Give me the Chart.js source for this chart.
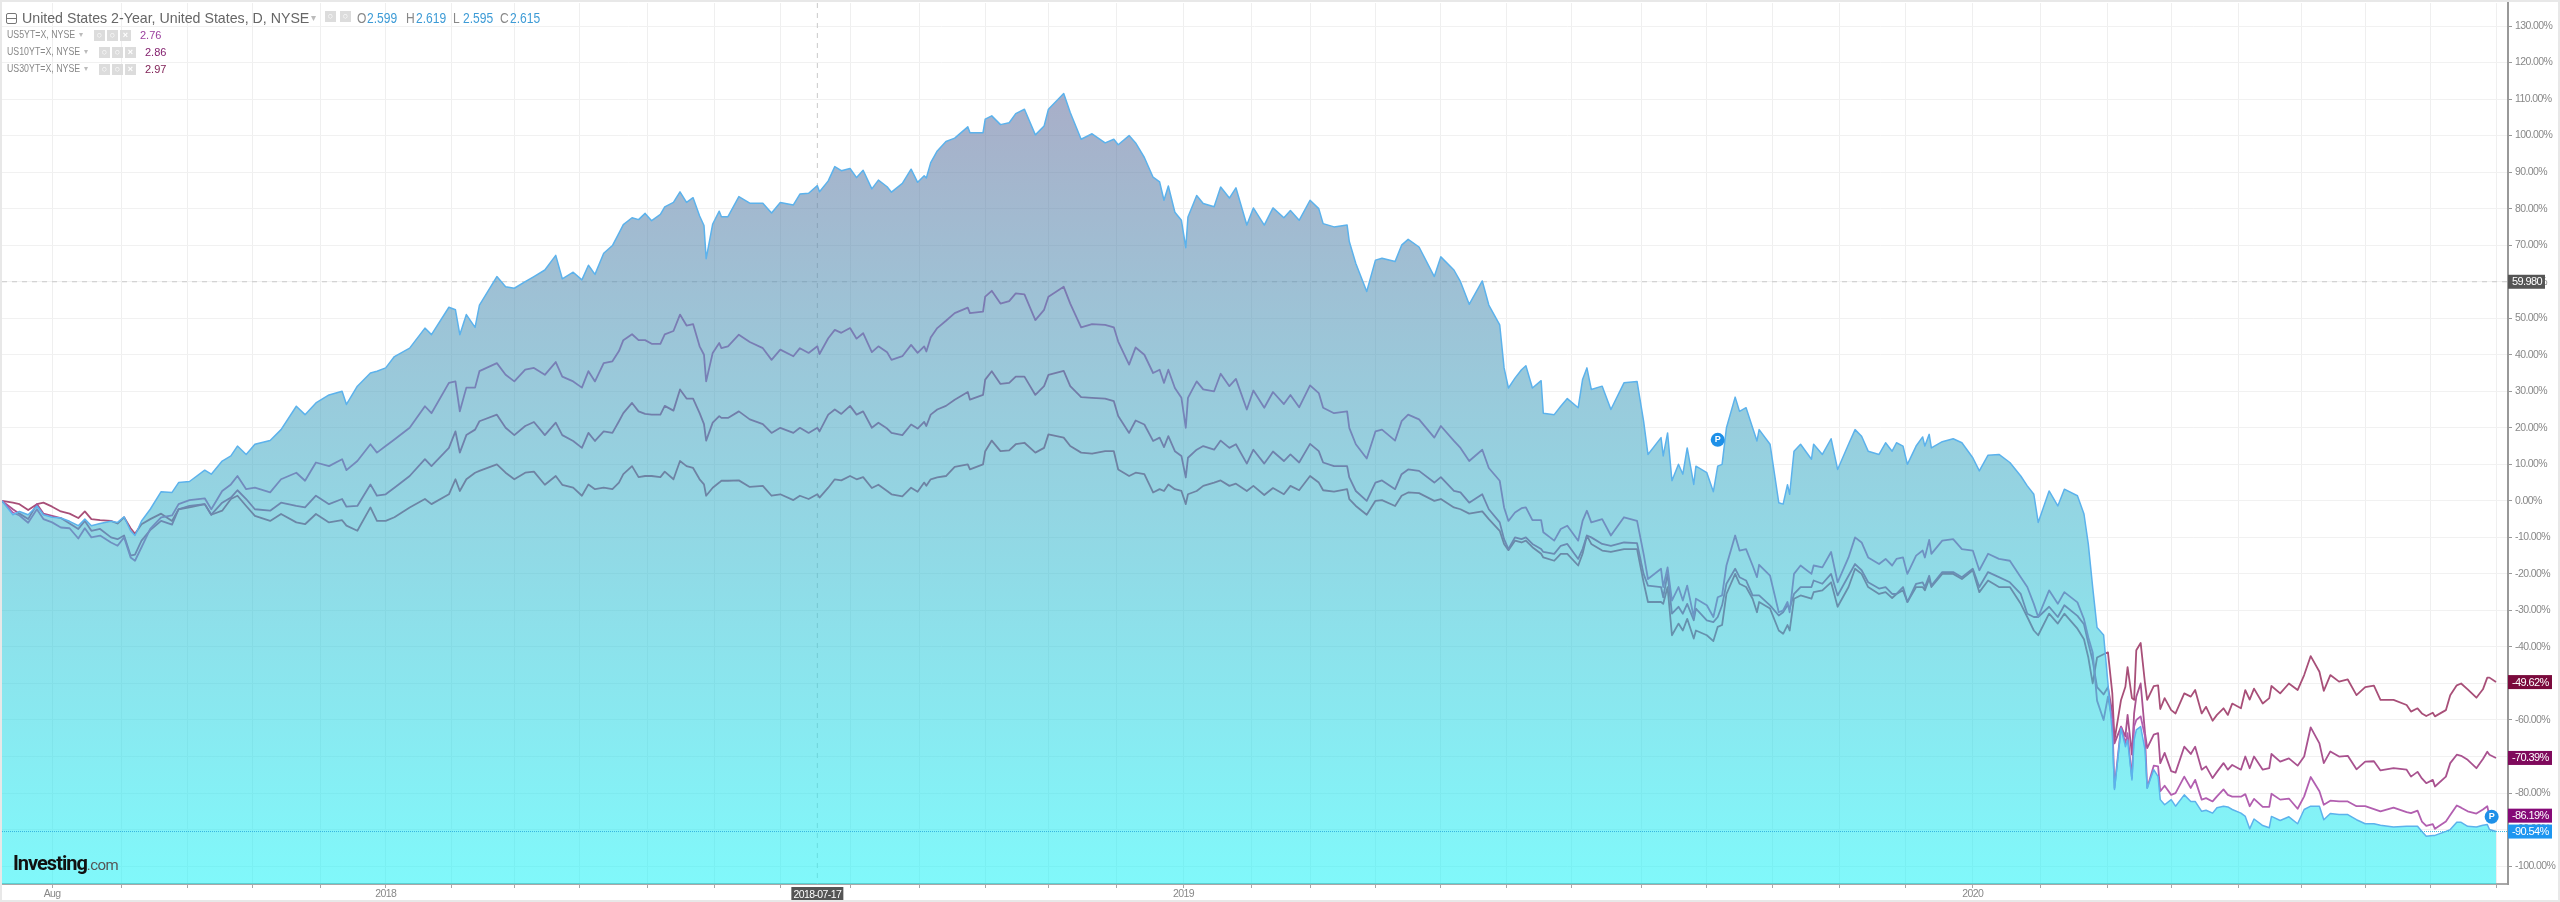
<!DOCTYPE html>
<html>
<head>
<meta charset="utf-8">
<title>United States 2-Year</title>
<script src="https://cdn.jsdelivr.net/npm/chart.js@4"></script>
<style>
  html, body { margin: 0; padding: 0; background: #fff; width: 2560px; height: 902px; overflow: hidden; }
  #wrap { position: relative; width: 2560px; height: 902px; filter: blur(0.5px); }
  canvas { position: absolute; left: 0; top: 0; }
  #frame { position: absolute; left: 0; top: 0; width: 2560px; height: 902px; box-sizing: border-box; border: 2px solid #e8e8e8; pointer-events: none; }
  .row { position: absolute; white-space: nowrap; font-family: "Liberation Sans", sans-serif; color: #777; }
  .row span { position: absolute; top: 0; transform-origin: left center; }
  .ico { position: absolute; background: #dcdcdc; color: #fff; font: bold 9px/11px "Liberation Sans", sans-serif; text-align: center; }
  #logo { position: absolute; left: 13px; top: 851px; font-family: Roboto, sans-serif; color: #111; white-space: nowrap; }
  #logo b { font-size: 20px; letter-spacing: -1px; font-weight: 700; }
  #logo i { font-style: normal; font-size: 15px; color: #555; letter-spacing: -0.6px; }
</style>
</head>
<body>
<div id="wrap">
  <canvas id="chart" width="2560" height="902"></canvas>
  <div id="header"></div>
  <div id="logo"><b>Investing</b><i>.com</i></div>
  <div id="frame"></div>
</div>
<script>
// calendar days since the left edge of the chart (2017-07-08)
const days = [0,5,8,12,16,19,23,27,31,35,38,41,45,50,53,56,59,61,64,68,73,78,81,86,93,96,101,105,108,112,
  116,123,128,135,139,144,150,156,158,163,169,172,176,180,187,194,197,205,208,210,213,217,219,227,231,235,240,244,249,254,
  257,262,266,269,272,276,280,283,285,289,292,295,298,302,304,308,311,314,317,320,322,323,326,329,330,333,338,343,349,353,
  357,363,366,370,374,375,379,382,385,389,392,395,399,402,406,408,413,417,420,423,424,426,429,433,437,443,444,450,451,454,
  458,462,465,469,474,478,480,487,490,495,500,506,510,512,517,520,524,528,531,533,535,538,541,543,544,548,551,556,559,563,
  566,571,574,579,583,588,591,595,600,604,606,611,617,618,621,626,630,633,639,642,645,650,657,660,666,669,673,679,682,687,
  689,691,694,697,699,702,706,707,712,715,718,723,725,727,729,734,738,744,750,753,755,761,762,764,766,769,771,773,776,777,
  782,785,787,789,791,795,797,800,803,805,806,811,815,817,819,820,822,825,830,831,835,839,842,847,850,853,856,861,864,867,
  869,872,874,878,881,882,884,885,890,895,899,904,907,911,916,921,926,929,932,934,939,943,946,952,955,957,959,961,964,966,
  968,969,972,974,975,977,978,979,981,983,984,987,989,990,992,995,997,1001,1004,1006,1009,1011,1014,1016,1019,1021,1023,1027,1029,1031,
  1033,1037,1040,1041,1045,1049,1053,1056,1059,1063,1065,1068,1072,1076,1080,1084,1088,1091,1097,1103,1105,1108,1110,1112,1115,1116,1121,1123,1126,1128,
  1131,1135,1138,1140,1141,1144];

const us2y = [0,-3.8,-2.9,-3.8,-1.4,-3.8,-4.5,-4.7,-5.6,-6.8,-5,-6.8,-6.2,-5.6,-5.9,-4.4,-8.2,-9.5,-5.5,-2.3,2.5,2.3,5,5.3,8.4,7.3,10.9,12.3,15,12.7,
  15.5,16.5,19.5,25.9,23.6,26.8,29,30,26.4,31.4,35,35.5,36.4,39.5,41.8,47.3,45.5,53,52.3,45.5,51,47.5,53.6,61.4,58.6,58.2,60,61.4,63.2,67.2,
  60.8,62.6,60.5,64.5,62,67.8,69.9,73.3,75.6,77.5,77,78.7,76.7,78.4,80.5,81.7,84.6,81.7,83,78,75.4,66.3,75.8,79.3,77.8,77.8,83.3,81.5,81.5,78.8,
  81.7,81,84,84.2,86.3,84.6,87.6,91.5,90.4,91,88.5,90.5,85.4,87.8,86,84.5,86.9,90.8,87.2,89,88.4,92.6,95.8,98.4,99.3,102.4,100.8,100.8,104.5,105.4,
  103,103.5,106,107.2,100.2,102.6,107.2,111.5,106.3,99,100.5,98,99,97.5,100,98,94,88.6,87.3,82.3,86.2,79,76.8,69.3,77.7,83.6,81.4,80.5,85.9,82.9,
  85.7,75.5,80.2,75.5,80.2,77.5,79.5,76.8,82.3,80,75.9,75,75.5,71,65,57.3,65.9,66.4,65.5,70,71.6,69.5,61.4,66.8,63.2,60,53.8,60.2,53.6,48.2,
  36.4,30.9,33.6,35.9,37,30.9,32.9,24,23.6,25.9,28,25.5,33.2,36.4,30.5,31.4,25,32.3,32.7,21.8,12.7,17.3,12.3,18.6,5.5,10,7.3,14.5,4.5,9.5,
  7.7,2.5,9.5,10,20,28.4,24.5,25.5,20,16.4,19.5,15.5,-.5,-.9,4.4,1.8,13.6,15.5,11.4,15.5,12.7,17,8.6,15.5,19.5,17.7,13.6,12.7,15.9,13.6,
  15.9,15,10,15,17.5,15,18.2,14.5,16.2,17,15.9,11.8,8.2,12.5,12.7,10.5,6.8,4.1,1.8,-5.9,2.7,-1.4,3.2,1.4,-3.6,-11.9,-23.7,-34.7,-36.7,-50,
  -63.6,-79,-62.3,-67.3,-65.5,-76.4,-65.5,-62.7,-61.8,-68.2,-78.6,-73.6,-75.5,-81.8,-83.2,-81.8,-83.6,-80.5,-82.3,-82.3,-85,-84.7,-85.5,-84,-83.6,-83.8,-84.5,-85.5,-86.4,-89.8,
  -87.1,-88.9,-89.5,-86.4,-87.5,-86.5,-88.4,-84.5,-83.6,-83.6,-87.3,-85.6,-85.9,-85.9,-87.3,-88.4,-88.4,-88.8,-89.3,-89.1,-89.1,-89.1,-90.5,-91.8,-91.6,-91.6,-90.5,-90,-88,-88,
  -89.1,-89.3,-88.8,-88.6,-90,-90.54];

const us5y = [0,-3.2,-4,-6,-2.3,-5,-5.9,-7.3,-7.5,-10.3,-7.5,-10,-9.5,-11.4,-12.3,-10,-15.5,-16.4,-12.7,-7.7,-4.5,-4,-.9,.2,.7,-2.3,2.7,4.5,6.8,3.2,
  3.6,2.3,5.9,7.7,5.5,10.5,9.5,11.4,8.4,10.9,15.5,13.2,15,16.8,20,25.9,24,32.3,32.7,24.5,31,31,35.5,37.7,34.5,32.7,35.9,36.4,34.5,38,
  34,32.7,31,35.5,32.7,37.7,38.2,41,44,45.6,44,44,43,43,45.6,46.5,51,48,48.4,42.3,40,32.7,40.5,43.2,41.8,42.3,45.5,43.5,41.8,38.6,
  41.4,39.6,41.8,40.5,42.3,40.2,44.5,46.8,46,47.3,44.4,45.9,40.7,42.3,40.7,38.6,39.6,42.7,40.5,42.3,40.9,44.7,47.3,49.3,51.4,52.9,51.4,51.8,55.9,57.5,
  54,54.7,56.8,56.5,49.5,52.3,55.9,58.6,54,47.5,48.4,48.2,47.5,43.6,37.3,42,40,35,35.9,32.3,35.9,30.9,28.2,20,28.2,32.7,30.5,30,34.8,31.4,
  33.4,25,30.2,25.5,29.8,26.5,29,25.6,31.6,29.5,25.5,24,24.5,20,15.5,11.6,19,19.5,16.5,21.8,23.6,22.3,17.3,20.5,16.4,14.5,10.9,14,9,5.5,
  -1.8,-5.5,-3.2,-2,-1.8,-5.3,-5.3,-8.6,-10.9,-7.7,-6.8,-10.9,-5.5,-2.7,-5.9,-5,-9.5,-4.5,-5.5,-14.5,-21.4,-18.6,-23.6,-18.2,-27.3,-23.6,-27.3,-23.2,-31.8,-26.8,
  -28.6,-31.8,-26.4,-25.9,-17.7,-9.5,-13.6,-13.2,-17.7,-20.9,-17.5,-20.5,-30.5,-30,-27.7,-30.5,-20,-17.7,-20,-17.7,-18.2,-14,-22.3,-15.5,-10,-11.4,-15.5,-17.3,-15.9,-17.7,
  -15.9,-15.5,-20,-15,-13.6,-15.5,-10.7,-14.5,-10.9,-10.5,-13.2,-13.6,-19,-14.5,-15.9,-16.4,-20.9,-23.6,-28.2,-31.8,-24.5,-28.2,-25,-27.8,-32.4,-37.4,-41.5,-54.7,-60,-53.6,
  -60,-78.6,-61.8,-66.4,-63.6,-75.9,-61.8,-60,-59,-64.5,-78.6,-72.5,-72.7,-79.5,-78,-80.5,-80,-75.5,-78.6,-76.4,-81.8,-81.4,-82.3,-80.9,-79,-80.5,-81,-81,-80.3,-83.6,
  -81.6,-83.8,-83.8,-80.2,-81.8,-81.5,-84.3,-80.9,-75.6,-79.5,-83.2,-82.1,-82.3,-82.3,-83.6,-83.6,-84.4,-85,-84,-85.2,-85.5,-84.8,-87.8,-89,-88.5,-89.8,-87.8,-86,-83.4,-84,
  -85,-85.6,-84.5,-83.6,-86.4,-86.19];

const us10y = [0,-2.3,-3.5,-5,-.9,-3.5,-4.1,-4.7,-6.2,-7.7,-5.5,-8.2,-7.7,-10,-10.5,-9.5,-15,-14.7,-10.9,-8,-5.5,-6.5,-2.3,-1.4,-.9,-3.8,-.5,.9,2.9,.5,
  -2.3,-2.7,-.5,-1.4,-1.8,1.4,-.9,.5,-1.6,-1.4,4.5,1.4,1.8,3.6,6.8,11.4,9.5,14.5,19,13.2,18,19.5,21.8,23.6,20,18,20.5,21.6,18,21.4,
  18,16.4,14.5,18.6,16.4,19,18.6,21.8,24,26.8,24.5,23.8,23.6,23.6,26,24.7,30.5,28,28,24,21,16.5,21.4,23.2,22.7,22.7,24.5,22.3,21,18.6,
  20,18.6,20,18.6,20,19,23.6,25,23.8,26,23.6,24.5,20,21.4,19.8,18.6,18,20.9,19.8,21.6,20.5,23.6,25,26,27.7,29.8,27.7,29,33.2,35.5,
  32,32.3,34,34,29,31.4,34.5,35.6,31.4,28.4,28.2,28,27.3,23.2,18.6,22,20.9,16.4,17.3,14.7,17.7,13.6,12.3,6.4,11.8,14,15,14,16.5,14.5,
  15.5,10.2,14,10.2,13.5,10.9,12.7,10.5,15.6,13.6,10.5,9.5,9.5,6.4,2.7,0,5,5.6,3.2,7.3,8.6,8.2,5,6.5,2.7,2.3,-.5,1.8,-2.3,-5.9,
  -10.5,-13.2,-10,-10.5,-10,-11.8,-13.2,-14,-14.5,-12.3,-11.8,-15.9,-13.2,-9.5,-10,-11.8,-12.3,-11.4,-11.6,-20,-23.2,-23.6,-26.4,-20,-30.9,-29,-30.9,-28.2,-32.7,-29.5,
  -32.7,-33.2,-31.8,-28.6,-22.7,-18.6,-20.9,-21.8,-25.9,-25.9,-25.9,-28.6,-31.4,-30.5,-28.6,-29.5,-25.5,-23.6,-23.6,-21.8,-22.7,-20,-25.9,-20.5,-17.3,-19,-22.3,-24,-23.6,-25.5,
  -25.5,-23.6,-27.7,-22.7,-22.3,-23.6,-20.5,-23.2,-19.5,-19.5,-20.9,-18.6,-23.6,-19.5,-20.9,-22.3,-25.5,-30.9,-31.8,-31.8,-29,-31.8,-28.6,-31.5,-33.8,-39,-43.8,-51,-53,-51,
  -58,-66.4,-61.8,-64.5,-58.6,-69.5,-58.2,-53.6,-50,-63.6,-67.7,-64,-63.6,-71.8,-69,-74,-74.4,-67.3,-69.3,-67.3,-73.6,-72.7,-75.9,-74.2,-71.8,-73.6,-72.3,-73.6,-70,-73.2,
  -70,-73.6,-73.2,-69.3,-71.4,-70.5,-72.5,-70,-62,-66.4,-71.8,-68.6,-70,-69.8,-73.5,-71.4,-71.3,-73.8,-73.2,-73.6,-75.5,-74.2,-76,-77.3,-76.4,-78.2,-75.5,-71.8,-69.5,-69.8,
  -70.9,-73.2,-70.7,-68.7,-69.5,-70.39];

const us30y = [0,-.5,-.9,-2.5,-.9,-.5,-1.6,-2.9,-3.5,-4.7,-2.9,-5,-5.3,-5.5,-6.2,-4.5,-7.5,-9,-6.4,-5,-3.5,-5.5,-2.3,-1.8,-.9,-3.8,-2.7,.5,1.4,-1.4,
  -4.1,-5.5,-3.6,-5.9,-6.4,-3.6,-5.9,-5.3,-6.8,-8.2,-1.8,-5.5,-5.5,-4.5,-1.8,.5,-.9,1.8,5.9,2.7,5.9,7.7,8.2,10,7.7,5.9,7.7,8,4.4,6.8,
  4.4,3.6,1.4,4.5,3.2,3.6,3.2,5,7.3,9.5,6.5,6.8,6.8,6.5,8,5.9,10.9,9.5,9,5.9,4.5,1.4,3.6,5,5.5,5.5,5.6,3.8,4.1,1.4,
  1.8,.2,1.4,.5,1.8,.9,3.6,5.9,5.6,6.8,5.9,6.5,3.5,4.4,2.7,1.8,1.2,3.6,2.5,5,4.1,5.9,6.4,6.8,9.3,10,8.6,10,13.6,16.5,
  13.6,13.8,15.5,15.9,13.2,14.5,18.2,17.3,15,13.2,12.9,13.6,13.6,8.6,6.8,7.7,7.3,2.3,3.2,2.7,4.5,3.2,2.7,-.9,1.8,2.7,4.1,5,5.6,4.1,
  4.7,2.7,4.1,1.6,3.5,1.8,4.1,2.9,6.8,5,2.9,2.5,3.2,.5,-1.4,-3.8,0,.2,-1.4,1.4,2.3,2.1,0,.5,-1.8,-2.3,-3.5,-2.9,-5,-8.2,
  -11.8,-13.5,-10.9,-11.4,-10.9,-12.7,-14.5,-15.5,-16.4,-14.5,-14.5,-17.7,-14.5,-9.5,-11.8,-13.6,-14,-13.2,-13.2,-22.3,-27.7,-27.7,-28.2,-23.6,-36.8,-33.6,-35.5,-32.3,-37.7,-35.5,
  -36.8,-38.4,-34.5,-34,-25.5,-20,-22.7,-23.6,-26.8,-30.5,-27.7,-29.5,-35.5,-36.4,-34,-35.5,-26.8,-25.9,-26.8,-25,-24.5,-22.3,-29,-23.6,-18.6,-20,-23.6,-25.5,-25,-26.6,
  -25.5,-24.5,-27.7,-23.6,-23.6,-24.5,-21.4,-23.6,-20,-20,-21.4,-19,-25,-21.8,-23.6,-23.6,-28.2,-31.8,-35.5,-36.8,-30.9,-33.6,-30.9,-35,-37.9,-42.9,-50,-42.9,-42,-41.5,
  -52.7,-65.5,-54.5,-50.9,-45.5,-54,-54.5,-40.9,-38.9,-50,-54.5,-50.7,-50.5,-57,-54,-57.3,-58.2,-52.7,-53.6,-51.8,-58.2,-56.4,-60.2,-58.6,-56.8,-58.6,-55.5,-56.8,-51.8,-54.4,
  -51.4,-55.5,-54,-50.7,-52.7,-50,-51.8,-47.7,-42.5,-46.8,-52,-47.7,-49.5,-48.9,-53.2,-51,-50.6,-54.5,-54.5,-55.9,-57.7,-56.8,-58.2,-58.9,-58,-59,-57.3,-53.2,-50.5,-50,
  -51.6,-53.9,-51.6,-48.4,-48.4,-49.62];

// month gridlines, in the same day numbers
const monthDays = [23,55,85,115,146,176,206,235,265,296,327,357,389,421,451,480,511,542,573,600,630,660,690,720,752,782,812,843,873,904,935,966,995,1026,1055,1084,1114,1144];
const xLabelDays = [23,176,542,904];
const xLabels = ['Aug','2018','2019','2020'];
const crossDay = 374;
const crossDate = '2018-07-17';
const crossValue = 59.98;
const crossLabel = '59.980';
const pinDays = [787,1142];
const pinValues = [16.7,-86.5];

const titleText = 'United States 2-Year, United States, D, NYSE';
const ohlcNames = ['O','H','L','C'];
const ohlcValues = ['2.599','2.619','2.595','2.615'];
const subNames = ['US5YT=X, NYSE','US10YT=X, NYSE','US30YT=X, NYSE'];
const subValues = ['2.76','2.86','2.97'];
const subColors = ['#9a3f9e','#84216f','#7d1c52'];

const axisFont = '"Liberation Sans", sans-serif';

function points(values) {
    return days.map((d, i) => ({x: d, y: values[i]}));
}

function areaGradient(context) {
    const chart = context.chart;
    if (!chart.chartArea) return 'rgba(60,180,200,0.55)';
    const top = chart.scales.y.getPixelForValue(Math.max(...us2y));
    const g = chart.ctx.createLinearGradient(0, top, 0, chart.chartArea.bottom);
    g.addColorStop(0, 'rgba(97,108,155,0.55)');
    g.addColorStop(1, 'rgba(24,243,247,0.55)');
    return g;
}

function tag(ctx, left, right, y, bg, text) {
    ctx.fillStyle = bg;
    ctx.fillRect(left, y - 7, right - left, 14);
    ctx.fillStyle = '#fff';
    ctx.font = '11px ' + axisFont;
    ctx.textAlign = 'left';
    ctx.textBaseline = 'middle';
    ctx.fillText(text, left + 4, y + 0.5);
}

// crosshair goes under the area, price line and tags on top
const overlay = {
    id: 'overlay',
    beforeDraw(chart) {
        // the screenshot's text is squeezed sideways
        chart.ctx.letterSpacing = '-0.6px';
    },
    beforeDatasetsDraw(chart) {
        const {ctx, chartArea: a, scales: {x, y}} = chart;
        ctx.save();
        ctx.strokeStyle = '#c9c9c9';
        ctx.lineWidth = 1;
        ctx.setLineDash([5, 5]);
        ctx.beginPath();
        ctx.moveTo(x.getPixelForValue(crossDay), a.top);
        ctx.lineTo(x.getPixelForValue(crossDay), a.bottom);
        ctx.moveTo(a.left, y.getPixelForValue(crossValue));
        ctx.lineTo(a.right, y.getPixelForValue(crossValue));
        ctx.stroke();
        ctx.restore();
    },
    afterDatasetsDraw(chart) {
        const {ctx, chartArea: a, scales: {y}} = chart;
        const last = y.getPixelForValue(us2y[us2y.length - 1]);
        ctx.save();
        ctx.strokeStyle = '#35b4e0';
        ctx.lineWidth = 1;
        ctx.setLineDash([1, 1]);
        ctx.beginPath();
        ctx.moveTo(a.left, last);
        ctx.lineTo(a.right, last);
        ctx.stroke();
        ctx.restore();
    },
    afterDraw(chart) {
        const {ctx, chartArea: a, scales: {x, y}} = chart;
        ctx.save();
        const r = a.right;
        tag(ctx, r, r + 37, y.getPixelForValue(crossValue), '#555555', crossLabel);
        const ends = [[us30y, '#7a0a3c'], [us10y, '#7f0a5c'], [us5y, '#860a78'], [us2y, '#1e96f0']];
        ends.forEach(([vals, color]) => {
            const v = vals[vals.length - 1];
            tag(ctx, r, r + 44, y.getPixelForValue(v), color, v.toFixed(2) + '%');
        });
        // date label under the crosshair
        const cx = x.getPixelForValue(crossDay);
        ctx.fillStyle = '#555555';
        ctx.fillRect(cx - 26, a.bottom + 3, 52, 15);
        ctx.fillStyle = '#fff';
        ctx.font = '10.5px ' + axisFont;
        ctx.textAlign = 'center';
        ctx.textBaseline = 'middle';
        ctx.fillText(crossDate, cx, a.bottom + 11);
        // P bubbles
        ctx.letterSpacing = '0px';
        pinDays.forEach((d, i) => {
            const px = x.getPixelForValue(d), py = y.getPixelForValue(pinValues[i]);
            ctx.fillStyle = '#1e90e8';
            ctx.beginPath();
            ctx.arc(px, py, 7, 0, Math.PI * 2);
            ctx.fill();
            ctx.fillStyle = '#fff';
            ctx.font = 'bold 9px "Liberation Sans"';
            ctx.fillText('P', px, py);
        });
        ctx.restore();
    }
};

new Chart(document.getElementById('chart'), {
    type: 'line',
    plugins: [overlay],
    data: {
        datasets: [
            {label: 'US2YT=X', data: points(us2y), order: 0, borderColor: '#5cb2ec', borderWidth: 1.5, backgroundColor: areaGradient, fill: 'start'},
            {label: 'US5YT=X', data: points(us5y), order: 1, borderColor: '#b25fb0', borderWidth: 1.8, fill: false},
            {label: 'US10YT=X', data: points(us10y), order: 2, borderColor: '#a9528f', borderWidth: 1.8, fill: false},
            {label: 'US30YT=X', data: points(us30y), order: 3, borderColor: '#a84f78', borderWidth: 1.8, fill: false}
        ]
    },
    options: {
        responsive: false,
        animation: false,
        devicePixelRatio: 1,
        parsing: false,
        normalized: true,
        elements: {point: {radius: 0}, line: {tension: 0, borderJoinStyle: 'round'}},
        layout: {padding: {left: 2, top: 3, right: 0, bottom: 0}},
        plugins: {legend: {display: false}, tooltip: {enabled: false}},
        scales: {
            x: {
                type: 'linear',
                min: 0,
                max: 1149.5,
                afterFit(scale) {
                    scale.height = 18;
                    scale.paddingLeft = 0;
                    scale.paddingRight = 0;
                },
                afterBuildTicks(scale) { scale.ticks = monthDays.map(d => ({value: d})); },
                border: {color: '#a8a8a8', width: 2},
                grid: {color: '#efefef', tickColor: '#a8a8a8', tickLength: 4, drawTicks: true},
                ticks: {
                    autoSkip: false,
                    maxRotation: 0,
                    padding: 0,
                    color: '#888',
                    font: {family: axisFont, size: 10.5},
                    callback(v) {
                        const i = xLabelDays.indexOf(v);
                        return i >= 0 ? xLabels[i] : '';
                    }
                }
            },
            y: {
                position: 'right',
                min: -104.9,
                max: 136.3,
                afterFit(scale) {
                    scale.width = 52;
                    scale.paddingTop = 0;
                    scale.paddingBottom = 0;
                },
                border: {color: '#999', width: 2},
                grid: {color: '#f1f1f1', tickColor: '#999', tickLength: 4},
                ticks: {
                    stepSize: 10,
                    includeBounds: false,
                    padding: 3,
                    color: '#888',
                    font: {family: axisFont, size: 10.5},
                    callback(v) { return v.toFixed(2) + '%'; }
                }
            }
        }
    }
});

// header block
const header = document.getElementById('header');
function addRow(top, size, color) {
    const row = document.createElement('div');
    row.className = 'row';
    row.style.cssText = `left:0;top:${top}px;font-size:${size}px;line-height:${size + 2}px;height:${size + 2}px;color:${color}`;
    header.appendChild(row);
    return row;
}
function addText(row, left, text, color, squeeze, size) {
    const s = document.createElement('span');
    s.style.left = left + 'px';
    s.textContent = text;
    if (color) s.style.color = color;
    if (squeeze) s.style.transform = `scaleX(${squeeze})`;
    if (size) s.style.fontSize = size + 'px';
    row.appendChild(s);
}
function addIcons(row, lefts, w, marks) {
    lefts.forEach((l, i) => {
        const b = document.createElement('div');
        b.className = 'ico';
        b.style.cssText = `left:${l}px;top:1px;width:${w}px;height:${w}px`;
        b.textContent = marks ? marks[i] : '\u25CB';
        row.appendChild(b);
    });
}
const minusBox = document.createElement('div');
minusBox.style.cssText = 'position:absolute;left:6px;top:13px;width:9px;height:9px;border:1px solid #777;border-radius:2px;background:linear-gradient(#fff 4px,#777 4px,#777 5px,#fff 5px)';
header.appendChild(minusBox);

const titleRow = addRow(10, 14.2, '#666');
addText(titleRow, 22, titleText);
addText(titleRow, 311, '\u25BE', '#bbb', null, 10);
addIcons(titleRow, [325, 340], 11);
[357, 406, 453, 500].forEach((x, i) => {
    addText(titleRow, x, ohlcNames[i], '#888', 0.85);
    addText(titleRow, x + 10, ohlcValues[i], '#3d9bd6', 0.85);
});
[29, 46, 63].forEach((top, i) => {
    const row = addRow(top, 10, '#888');
    addText(row, 7, subNames[i], null, 0.88);
    addText(row, i === 0 ? 79 : 84, '\u25BE', '#bbb', null, 8);
    const base = i === 0 ? 94 : 99;
    addIcons(row, [base, base + 13, base + 26], 11, ['\u25CB', '\u25CB', '\u00D7']);
    addText(row, base + 46, subValues[i], subColors[i], null, 11);
});
</script>
</body>
</html>
